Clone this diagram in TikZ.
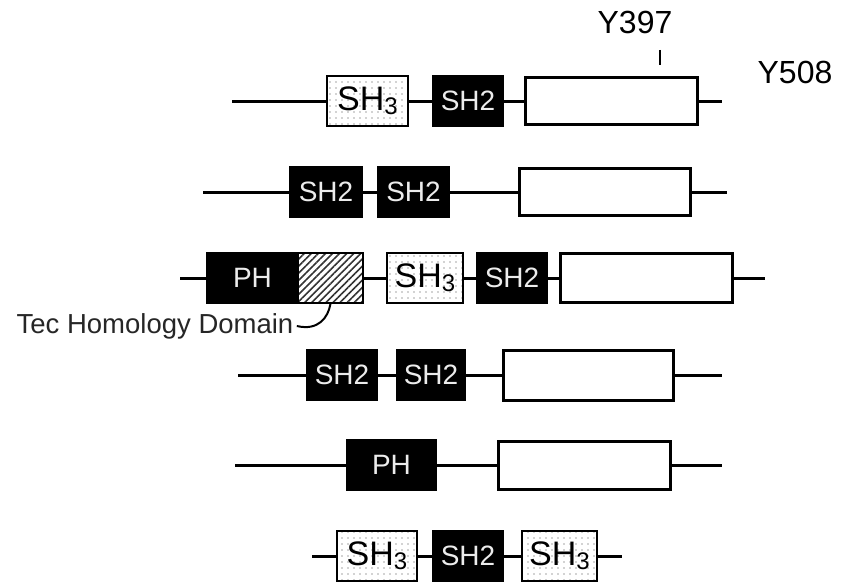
\documentclass[tikz,border=0pt]{standalone}
\usepackage{fontspec}
\setmainfont{Liberation Sans}
\usetikzlibrary{patterns.meta}

\tikzset{
  backbone/.style={line width=3pt, black},
  dombox/.style={inner sep=0pt, minimum height=50pt},
  shtwo/.style={dombox, draw=black, fill=black, line width=1.5pt, text=gray!15,
    font=\fontsize{28}{28}\selectfont},
  shthree/.style={dombox, draw=black, line width=2.2pt, preaction={fill=white},
    pattern={Dots[distance=6pt, radius=0.9pt]}, pattern color=gray!70,
    font=\fontsize{34}{34}\selectfont},
  phbox/.style={dombox, draw=black, fill=black, line width=1.5pt, text=gray!15,
    font=\fontsize{28}{28}\selectfont},
  tecbox/.style={dombox, draw=black, line width=2pt, preaction={fill=white},
    pattern={Lines[angle=45, distance=5pt, line width=1.6pt]}, pattern color=black!80},
  kinbox/.style={draw=black, fill=white, line width=3pt, inner sep=0pt, minimum height=47pt},
  site/.style={font=\fontsize{32}{32}\selectfont}
}
\newcommand{\shthreetext}{SH\raisebox{-4pt}{\fontsize{24}{24}\selectfont 3}}

\begin{document}
\begin{tikzpicture}[x=1pt, y=-1pt]
    \useasboundingbox (0,0) rectangle (843,586);

    % Riga 1
    \coordinate (r1l) at (232,101);
    \coordinate (r1r) at (722,101);
    \node[shthree, minimum width=81pt] (a1) at (367.5,101) {\shthreetext};
    \node[shtwo, minimum width=70pt] (b1) at (468,101) {SH2};
    \node[kinbox, minimum width=172pt] (c1) at (611,101) {};
    \draw[backbone] (r1l) -- (a1) -- (b1) -- (c1) -- (r1r);
    \coordinate (t1a) at (660,50);
    \coordinate (t1b) at (660,65);
    \draw[line width=2pt] (t1a) -- (t1b); % Tacca Y397
    \node[site] (y397) at (635,22) {Y397};
    \node[site] (y508) at (795,72) {Y508};

    % Riga 2
    \coordinate (r2l) at (203,192);
    \coordinate (r2r) at (727,192);
    \node[shtwo, minimum width=72pt] (a2) at (326,192) {SH2};
    \node[shtwo, minimum width=71pt] (b2) at (413.5,192) {SH2};
    \node[kinbox, minimum width=171pt] (c2) at (604.5,192) {};
    \draw[backbone] (r2l) -- (a2) -- (b2) -- (c2) -- (r2r);

    % Riga 3
    \coordinate (r3l) at (180,278);
    \coordinate (r3r) at (765,278);
    \node[phbox, minimum width=91pt] (a3) at (252.5,278) {PH};
    \node[tecbox, minimum width=65pt] (h3) at (330.5,278) {};
    \node[shthree, minimum width=76pt] (b3) at (425,278) {\shthreetext};
    \node[shtwo, minimum width=70pt] (c3) at (512,278) {SH2};
    \node[kinbox, minimum width=172pt, minimum height=49pt] (d3) at (646,278) {};
    \draw[backbone] (r3l) -- (a3);
    \draw[backbone] (h3) -- (b3) -- (c3) -- (d3) -- (r3r);
    \node[text=black!85, font=\fontsize{27.5}{27.5}\selectfont] (tec) at (155,326)
      {Tec Homology Domain};
    \draw[line width=2pt] (tec.east) .. controls (318,331) and (328,318) .. (h3.south);

    % Riga 4
    \coordinate (r4l) at (238,375);
    \coordinate (r4r) at (722,375);
    \node[shtwo, minimum width=70pt] (a4) at (342,375) {SH2};
    \node[shtwo, minimum width=68pt] (b4) at (431,375) {SH2};
    \node[kinbox, minimum width=170pt, minimum height=50pt] (c4) at (588,375) {};
    \draw[backbone] (r4l) -- (a4) -- (b4) -- (c4) -- (r4r);

    % Riga 5
    \coordinate (r5l) at (235,465);
    \coordinate (r5r) at (722,465);
    \node[phbox, minimum width=89pt] (a5) at (391.5,465) {PH};
    \node[kinbox, minimum width=172pt, minimum height=48pt] (b5) at (584,465) {};
    \draw[backbone] (r5l) -- (a5) -- (b5) -- (r5r);

    % Riga 6
    \coordinate (r6l) at (312,556);
    \coordinate (r6r) at (622,556);
    \node[shthree, minimum width=80pt] (a6) at (377,556) {\shthreetext};
    \node[shtwo, minimum width=70pt] (b6) at (468,556) {SH2};
    \node[shthree, minimum width=75pt] (c6) at (559.5,556) {\shthreetext};
    \draw[backbone] (r6l) -- (a6) -- (b6) -- (c6) -- (r6r);

\end{tikzpicture}
\end{document}
